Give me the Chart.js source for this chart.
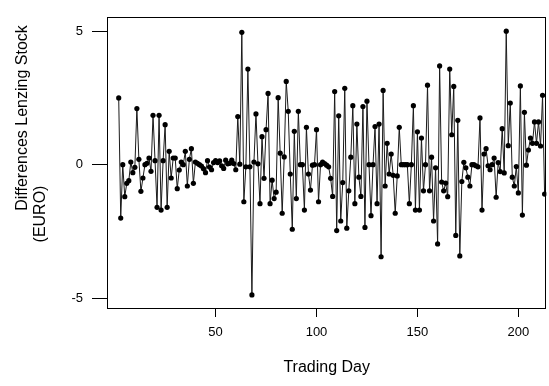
<!DOCTYPE html>
<html>
<head>
<meta charset="utf-8">
<script src="https://cdn.jsdelivr.net/npm/chart.js@4"></script>
<style>
  html, body { margin: 0; padding: 0; background: #fff; }
  #wrap { width: 549px; height: 386px; }
</style>
</head>
<body>
<div id="wrap"><canvas id="c" width="549" height="386"></canvas></div>
<script>
// Daily price differences of the Lenzing stock (EURO), starting on trading day 2
const firstDay = 2;
const diffs = [
  2.5, -2.0, 0.0, -1.2, -0.7, -0.6, 0.1, -0.3, -0.1, 2.1,
  0.2, -1.0, -0.5, 0.0, 0.05, 0.25, -0.25, 1.85, 0.15, -1.6,
  1.85, -1.7, 0.15, 1.5, -1.6, 0.5, -0.5, 0.25, 0.25, -0.9,
  -0.2, 0.1, 0.0, 0.5, -0.8, 0.2, 0.6, -0.7, 0.1, 0.05,
  0.0, -0.05, -0.15, -0.3, 0.15, -0.09, -0.19, 0.08, 0.15, 0.08,
  0.14, -0.04, -0.14, 0.17, 0.03, 0.05, 0.17, 0.04, -0.19, 1.8,
  0.02, 4.96, -1.39, -0.08, 3.58, -0.08, -4.88, 0.1, 1.9, 0.03,
  -1.46, 1.05, -0.51, 1.31, 2.67, -1.46, -0.58, -1.27, -1.03, 2.51,
  0.43, -1.82, 0.29, 3.12, 2.0, -0.35, -2.42, 1.25, -1.27, 2.0,
  0.0, 0.0, -1.7, 1.4, -0.35, -0.95, -0.02, 0.0, 1.31, -1.39,
  0.0, 0.1, 0.04, -0.02, -0.08, -0.51, -1.19, 2.74, -2.47, 1.83,
  -2.11, -0.67, 2.86, -2.38, -0.98, 0.28, 2.21, -1.46, 1.52, -0.47,
  -1.19, 2.18, -2.35, 2.38, 0.0, -1.91, 0.0, 1.43, -1.46, 1.52,
  -3.45, 2.78, -0.8, 0.8, -0.35, 0.4, -0.4, -1.82, -0.42, 1.4,
  0.0, 0.0, 0.0, 0.0, -1.46, 0.0, 2.21, -1.7, 1.23, -1.7,
  1.0, -0.98, 0.0, 2.98, -0.98, 0.28, -2.11, -0.12, -2.97, 3.7,
  -0.65, -0.98, -0.69, -1.2, 3.58, 1.12, 2.93, -2.65, 1.66, -3.42,
  -0.63, 0.09, -0.12, -0.47, -0.8, 0.0, 0.0, -0.04, -0.08, 1.75,
  -1.7, 0.4, 0.6, -0.04, -0.19, 0.0, 0.25, -1.22, 0.08, -0.26,
  1.35, -0.31, 5.0, 0.71, 2.31, -0.47, -0.8, -0.07, -1.06, 2.95,
  -1.89, 1.96, -0.02, 0.55, 1.0, 0.8, 1.6, 0.8, 1.6, 0.7,
  2.6, -1.1
];
const tradingDays = diffs.map((_, i) => firstDay + i);

const xTickValues = [50, 100, 150, 200];
const yTickValues = [-5, 0, 5];
const xTitle = 'Trading Day';
const yTitleLines = ['Differences Lenzing Stock', '(EURO)'];

const FONT = "'Liberation Sans', Arial, Helvetica, sans-serif";

// Frame around the plotting region plus the axis titles
const frameAndTitles = {
  id: 'frameAndTitles',
  afterDraw(chart) {
    const { ctx, chartArea: a } = chart;
    ctx.save();
    ctx.strokeStyle = '#000';
    ctx.lineWidth = 1;
    const l = Math.round(a.left) + 0.5, t = Math.round(a.top) + 0.5;
    const r = Math.round(a.right) - 0.5, b = Math.round(a.bottom) + 0.5;
    ctx.strokeRect(l, t, r - l, b - t);

    ctx.fillStyle = '#000';
    ctx.font = '16px ' + FONT;
    ctx.textAlign = 'center';
    ctx.textBaseline = 'middle';
    ctx.fillText(xTitle, (a.left + a.right) / 2, 368);

    const yPos = [[23, 118], [41, 214]];
    yTitleLines.forEach((line, i) => {
      ctx.save();
      ctx.translate(yPos[i][0], yPos[i][1]);
      ctx.rotate(-Math.PI / 2);
      ctx.fillText(line, 0, 0);
      ctx.restore();
    });
    ctx.restore();
  }
};

new Chart(document.getElementById('c'), {
  type: 'line',
  data: {
    datasets: [{
      data: tradingDays.map((d, i) => ({ x: d, y: diffs[i] })),
      borderColor: '#1a1a1a',
      borderWidth: 1,
      pointRadius: 2.6,
      pointBackgroundColor: '#000',
      pointBorderColor: '#000',
      pointBorderWidth: 0,
      pointHoverRadius: 0,
      tension: 0,
      fill: false
    }]
  },
  options: {
    responsive: false,
    animation: false,
    events: [],
    layout: { padding: { left: 0, top: 5, right: 1, bottom: 0 } },
    plugins: { legend: { display: false }, tooltip: { enabled: false } },
    scales: {
      x: {
        type: 'linear',
        min: -3.8,
        max: 213.9,
        afterBuildTicks: s => { s.ticks = xTickValues.map(v => ({ value: v })); },
        afterFit: s => { s.height = 78; },
        border: { display: false },
        grid: { display: true, drawOnChartArea: false, drawTicks: true, tickLength: 9, color: '#000', lineWidth: 1 },
        ticks: { color: '#000', font: { family: FONT, size: 13 }, padding: 8, maxRotation: 0, autoSkip: false }
      },
      y: {
        type: 'linear',
        min: -5.37,
        max: 5.54,
        afterBuildTicks: s => { s.ticks = yTickValues.map(v => ({ value: v })); },
        afterFit: s => { s.width = 107; },
        border: { display: false },
        grid: { display: true, drawOnChartArea: false, drawTicks: true, tickLength: 15, color: '#000', lineWidth: 1 },
        ticks: { color: '#000', font: { family: FONT, size: 13 }, padding: 9, autoSkip: false }
      }
    }
  },
  plugins: [frameAndTitles]
});
</script>
</body>
</html>
